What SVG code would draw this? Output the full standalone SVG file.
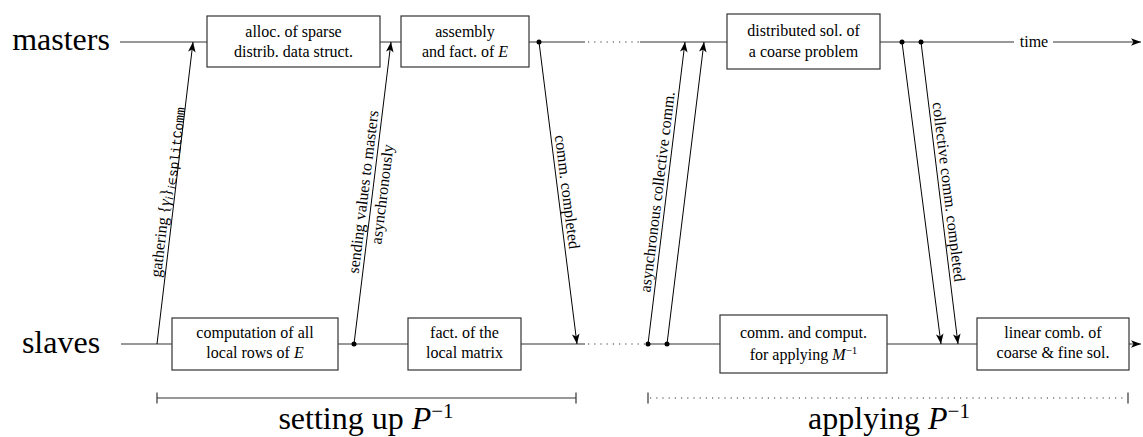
<svg xmlns="http://www.w3.org/2000/svg" width="1143" height="437" viewBox="0 0 1143 437">
<style>
text{font-family:"Liberation Serif","DejaVu Serif",serif;fill:#000}
.big{font-size:32px;text-anchor:middle}
.lbl{font-size:16px;text-anchor:middle}
.tl{stroke:#333;stroke-width:1.2;fill:none}
.dot{stroke:#333;stroke-width:1.2;fill:none;stroke-dasharray:1.2 5}
.box rect{fill:#fff;stroke:#333;stroke-width:1.2}
.arr{stroke:#000;stroke-width:1;fill:none;marker-end:url(#ah)}
.tlarr{marker-end:url(#ah)}
.pt{fill:#000}
.it{font-style:italic}
.mono{font-family:"Liberation Mono","DejaVu Sans Mono",monospace}
</style>
<defs>
<marker id="ah" viewBox="-11 -5 12 10" refX="0" refY="0" markerWidth="12" markerHeight="10" markerUnits="userSpaceOnUse" orient="auto">
<path d="M0,0 L-10,-3.8 L-7.5,0 L-10,3.8 Z" fill="#000"/>
</marker>
</defs>

<g id="row-labels">
<text class="big" x="61" y="50">masters</text>
<text class="big" x="61" y="353">slaves</text>
</g>

<g id="timelines">
<line class="tl" x1="120" y1="42" x2="585" y2="42"/>
<line class="dot" x1="588" y1="42" x2="640" y2="42"/>
<line class="tl" x1="640" y1="42" x2="1014" y2="42"/>
<line class="tl tlarr" x1="1053" y1="42" x2="1141" y2="42"/>
<text class="lbl" x="1034" y="47">time</text>
<line class="tl" x1="121" y1="344" x2="585" y2="344"/>
<line class="dot" x1="588" y1="344" x2="646" y2="344"/>
<line class="tl tlarr" x1="646" y1="344" x2="1141" y2="344"/>
</g>

<g id="node-alloc" class="box">
<rect x="207" y="16" width="173" height="51"/>
<text class="lbl" x="293.5" y="37">alloc. of sparse</text>
<text class="lbl" x="293.5" y="57">distrib. data struct.</text>
</g>
<g id="node-assembly" class="box">
<rect x="401" y="16" width="128" height="51"/>
<text class="lbl" x="465" y="37">assembly</text>
<text class="lbl" x="465" y="57">and fact. of <tspan class="it">E</tspan></text>
</g>
<g id="node-coarse" class="box">
<rect x="727" y="14" width="153" height="55"/>
<text class="lbl" x="803.5" y="36">distributed sol. of</text>
<text class="lbl" x="803.5" y="57">a coarse problem</text>
</g>
<g id="node-computation" class="box">
<rect x="172" y="318" width="166" height="52"/>
<text class="lbl" x="255" y="338">computation of all</text>
<text class="lbl" x="255" y="358">local rows of <tspan class="it">E</tspan></text>
</g>
<g id="node-localfact" class="box">
<rect x="408" y="318" width="113" height="52"/>
<text class="lbl" x="464.5" y="338">fact. of the</text>
<text class="lbl" x="464.5" y="358">local matrix</text>
</g>
<g id="node-applyM" class="box">
<rect x="720" y="315" width="167" height="58"/>
<text class="lbl" x="803.5" y="338">comm. and comput.</text>
<text class="lbl" x="803.5" y="360">for applying <tspan class="it">M</tspan><tspan font-size="11" dy="-6">−1</tspan></text>
</g>
<g id="node-lincomb" class="box">
<rect x="977" y="318" width="152" height="52"/>
<text class="lbl" x="1053" y="338">linear comb. of</text>
<text class="lbl" x="1053" y="358">coarse &amp; fine sol.</text>
</g>

<g id="connectors">
<line class="arr" x1="157" y1="344" x2="193" y2="42"/>
<line class="arr" x1="354" y1="344" x2="391" y2="42"/>
<line class="arr" x1="539" y1="42" x2="577" y2="344"/>
<line class="arr" x1="648" y1="344" x2="685" y2="42"/>
<line class="arr" x1="667" y1="344" x2="704" y2="42"/>
<line class="arr" x1="902" y1="42" x2="941" y2="344"/>
<line class="arr" x1="921" y1="42" x2="958" y2="344"/>
<circle class="pt" cx="539" cy="42" r="2.5"/>
<circle class="pt" cx="902" cy="42" r="2.5"/>
<circle class="pt" cx="921" cy="42" r="2.5"/>
<circle class="pt" cx="354" cy="344" r="2.5"/>
<circle class="pt" cx="648" cy="344" r="2.5"/>
<circle class="pt" cx="667" cy="344" r="2.5"/>
</g>

<g id="connector-labels">
<text class="lbl" transform="translate(175,193) rotate(-83.2)" x="0" y="-4">gathering {<tspan class="it">γ</tspan><tspan class="it" font-size="12" dy="3">i</tspan><tspan dy="-3">}</tspan><tspan class="it" font-size="12" dy="4">i</tspan><tspan font-size="12">∈</tspan><tspan class="mono" font-size="13">splitComm</tspan></text>
<g transform="translate(372.5,193) rotate(-83)">
<text class="lbl" x="0" y="-4">sending values to masters</text>
<text class="lbl" x="0" y="15">asynchronously</text>
</g>
<text class="lbl" transform="translate(558,193) rotate(82.8)" x="0" y="-4">comm. completed</text>
<text class="lbl" transform="translate(666.5,193) rotate(-83)" x="0" y="-4">asynchronous collective comm.</text>
<text class="lbl" transform="translate(939.5,193) rotate(83)" x="0" y="-4">collective comm. completed</text>
</g>

<g id="phases">
<line class="tl" x1="157" y1="398" x2="576" y2="398"/>
<line class="tl" x1="157" y1="392.5" x2="157" y2="403.5"/>
<line class="tl" x1="576" y1="392.5" x2="576" y2="403.5"/>
<text class="big" x="366" y="429">setting up <tspan class="it">P</tspan><tspan font-size="21" dy="-11">−1</tspan></text>
<line class="dot" x1="650" y1="398" x2="1127" y2="398"/>
<line class="tl" x1="648" y1="392.5" x2="648" y2="403.5"/>
<line class="tl" x1="1128" y1="392.5" x2="1128" y2="403.5"/>
<text class="big" x="889" y="429">applying <tspan class="it">P</tspan><tspan font-size="21" dy="-11">−1</tspan></text>
</g>
</svg>
